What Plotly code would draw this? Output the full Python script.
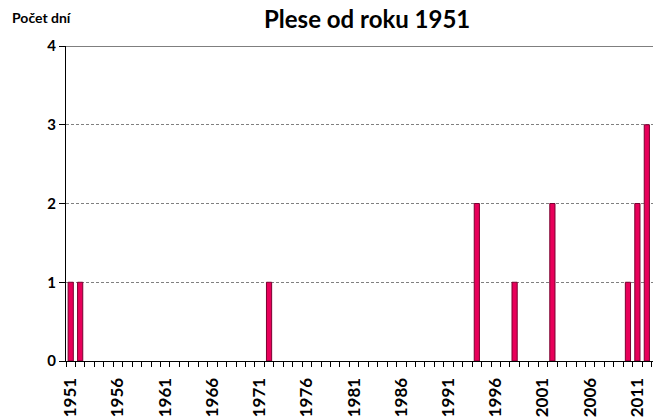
import plotly.graph_objects as go

years = list(range(1951, 2014))
days = [1, 1,
        0, 0, 0, 0, 0, 0, 0, 0, 0, 0, 0, 0, 0, 0, 0, 0, 0, 0, 0,
        1,
        0, 0, 0, 0, 0, 0, 0, 0, 0, 0, 0, 0, 0, 0, 0, 0, 0, 0, 0, 0, 0,
        2,
        0, 0, 0,
        1,
        0, 0, 0,
        2,
        0, 0, 0, 0, 0, 0, 0,
        1, 2, 3, 1]
tick_years = [1951, 1956, 1961, 1966, 1971, 1976, 1981, 1986, 1991, 1996, 2001, 2006, 2011]
y_ticks = [0, 1, 2, 3, 4]

title_text = "Plese od roku 1951"
y_title = "Počet dní"

FONT = "Lato, 'Open Sans', Arial, sans-serif"

# zero-day years draw no bar
bar_y = [v if v else None for v in days]

fig = go.Figure(go.Bar(
    x=years, y=bar_y, width=0.55,
    marker=dict(color="#E8005A", line=dict(color="#7A0030", width=1)),
))

x_range = [years[0] - 0.5, years[-1] + 0.5]

# page has an 8px body margin, so the figure is sized/offset to compensate
fig.update_layout(
    width=653, height=409,
    margin=dict(l=58, r=0, t=38, b=56, autoexpand=False),
    paper_bgcolor="white", plot_bgcolor="white",
    showlegend=False,
    font=dict(family=FONT, color="black"),
    title=dict(text="<b>" + title_text + "</b>", x=0.55, xanchor="center",
               y=0.971, yanchor="middle", font=dict(size=24, family=FONT)),
    xaxis=dict(
        range=x_range, automargin=False,
        tickmode="array", tickvals=tick_years,
        ticktext=["<b>%d</b>" % t for t in tick_years],
        tickangle=-90, ticks="outside", ticklen=9, tickcolor="rgba(0,0,0,0)",
        tickfont=dict(size=17, family=FONT),
        showgrid=False, zeroline=False,
        showline=True, linecolor="black", linewidth=1,
        minor=dict(tickmode="linear", tick0=x_range[0], dtick=1, ticks="outside",
                   ticklen=5, tickcolor="black", tickwidth=1, showgrid=False),
    ),
    yaxis=dict(
        range=[0, 4], automargin=False, tickmode="array", tickvals=y_ticks,
        ticktext=["<b>%d</b>" % v for v in y_ticks],
        ticks="outside", ticklen=6, tickcolor="black",
        tickfont=dict(size=15, family=FONT),
        showgrid=True, gridcolor="#808080", griddash="3px,2px", gridwidth=1,
        zeroline=False, showline=True, linecolor="black", linewidth=1,
    ),
    annotations=[dict(text="<b>" + y_title + "</b>", xref="paper", yref="paper",
                      x=-0.094, y=1.092, xanchor="left", yanchor="middle",
                      showarrow=False, font=dict(size=14, family=FONT))],
    shapes=[dict(type="line", xref="paper", yref="y", x0=0, x1=1, y0=4, y1=4,
                 line=dict(color="black", width=1))],
)

fig.write_html("out.html", config={"displayModeBar": False})
